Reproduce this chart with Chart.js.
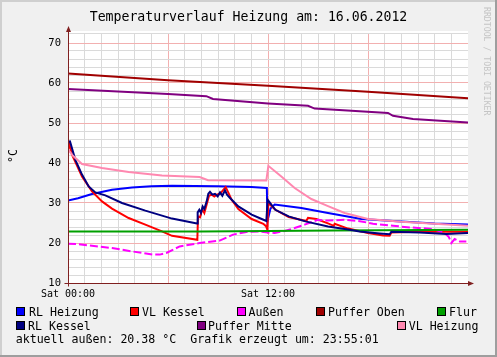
<!DOCTYPE html>
<html>
<head>
<meta charset="utf-8">
<script src="https://cdn.jsdelivr.net/npm/chart.js@4.4.1/dist/chart.umd.min.js"></script>
<style>
html,body{margin:0;padding:0;background:#f0f0f0;}
#wrap{position:relative;width:497px;height:357px;overflow:hidden;background:#f0f0f0;font-family:'DejaVu Sans Mono',monospace;color:#000;}
#c{position:absolute;left:0;top:0;}
.t{position:absolute;white-space:pre;line-height:14px;font-size:11.6px;}
.box{position:absolute;width:9px;height:9px;box-sizing:border-box;border:1px solid #000;}
#title{position:absolute;left:0;top:9px;width:497px;text-align:center;font-size:13.2px;line-height:16px;white-space:pre;}
#unit{position:absolute;left:-2.5px;top:149px;width:30px;height:14px;line-height:14px;text-align:center;font-size:11.6px;transform:rotate(-90deg);}
#credit{position:absolute;left:492px;top:7px;transform-origin:0 0;transform:rotate(90deg);font-size:8.2px;line-height:10px;color:#c4c4c4;white-space:pre;}
.edge{position:absolute;}
</style>
</head>
<body>
<div id="wrap">
<canvas id="c" width="497" height="357"></canvas>
<div id="title">Temperaturverlauf Heizung am: 16.06.2012</div>
<div id="unit">°C</div>
<div id="credit">RRDTOOL / TOBI OETIKER</div>
<div id="legend"></div>
<div class="t" style="left:15.7px;top:332px;">aktuell außen: 20.38 °C  Grafik erzeugt um: 23:55:01</div>
<div class="edge" style="left:0;top:0;width:497px;height:2px;background:#cfcfcf;"></div>
<div class="edge" style="left:0;top:0;width:2px;height:357px;background:#cfcfcf;"></div>
<div class="edge" style="right:0;top:0;width:2px;height:357px;background:#9e9e9e;"></div>
<div class="edge" style="left:0;bottom:0;width:497px;height:2px;background:#9e9e9e;"></div>
</div>
<script>
// ---- tick labels / axes ----
const xTickHours = [0,1,2,3,4,5,6,7,8,9,10,11,12,13,14,15,16,17,18,19,20,21,22,23];
const xTickLabels = {0:'Sat 00:00', 12:'Sat 12:00'};
const yTickValues = [10,12,14,16,18,20,22,24,26,28,30,32,34,36,38,40,42,44,46,48,50,52,54,56,58,60,62,64,66,68,70,72.5];

// ---- series names & colours ----
const seriesNames = ['RL Heizung','VL Kessel','Außen','Puffer Oben','Flur','RL Kessel','Puffer Mitte','VL Heizung'];
const seriesColors = ['#0000ff','#ff0000','#ff00ff','#a00000','#00a000','#000080','#800080','#ff88b0'];

// ---- series data (hours, °C) ----
const rlHeizungH = [0,0.6,1.44,2.64,3.84,5.0,6.24,9.0,11.0,11.93,11.97,12.15,12.4,14.0,15.6,17.6,20.0,22.0,24];
const rlHeizungV = [30.65,31.2,32.25,33.3,33.9,34.2,34.3,34.2,34.0,33.75,25.5,28.6,29.6,28.75,27.5,26.0,25.4,24.9,24.6];

const vlKesselH = [0,0.05,0.12,0.24,0.84,1.44,2.04,2.64,3.64,4.64,5.64,6.24,7.76,7.8,7.92,8.06,8.18,8.32,8.46,8.62,8.78,8.92,9.12,9.32,9.46,9.62,9.82,10.22,11.02,11.72,11.88,11.96,12.02,12.44,13.24,14.3,14.4,14.9,15.6,15.95,16.0,16.8,18.0,18.9,19.3,19.4,21.0,24];
const vlKesselV = [43.8,45.0,44.0,42.1,36.65,32.9,30.4,28.6,26.25,24.6,22.9,21.8,20.8,26.65,26.4,28.5,27.5,29.65,31.8,32.1,31.65,32.1,32.3,33.3,34.0,32.6,30.8,28.5,26.0,24.8,24.2,23.3,30.0,28.3,26.5,25.5,26.3,26.0,24.9,24.3,24.8,23.6,22.5,21.9,21.8,22.6,22.8,22.8];

const aussenH = [0,0.6,1.44,2.64,3.84,5.1,5.5,5.9,6.7,7.9,9.1,9.9,10.7,11.5,12.0,12.4,13.0,13.6,14.2,15.0,15.6,16.6,17.6,18.3,19.5,20.5,21.9,22.6,22.85,23.0,23.2,23.5,23.9];
const aussenV = [19.8,19.7,19.3,18.75,17.9,17.1,17.1,17.5,19.15,20.0,20.6,22.1,22.75,22.9,22.6,22.5,23.0,23.75,24.6,25.8,25.6,25.8,25.4,24.8,24.3,23.9,23.5,22.5,21.5,20.0,21.0,20.4,20.4];

const pufferObenH = [0,6,12,18,24];
const pufferObenV = [62.4,60.7,59.3,57.8,56.2];

const flurH = [0,8,12,16,24];
const flurV = [22.85,22.9,23.0,23.1,23.3];

const rlKesselH = [0,0.12,0.44,0.84,1.24,1.64,2.24,3.24,4.64,6.24,7.74,7.78,7.88,7.98,8.08,8.18,8.32,8.42,8.52,8.66,8.82,8.98,9.12,9.26,9.42,9.54,9.72,10.22,11.02,11.62,11.9,11.98,12.44,13.24,14.24,15.6,16.8,17.5,18.7,19.3,19.4,21.1,22.7,24];
const rlKesselV = [45.3,45.4,40.8,37.1,34.15,32.65,31.9,30.0,28.1,26.1,24.9,27.65,28.3,27.5,29.15,28.5,30.4,32.3,32.8,32.1,32.3,31.65,32.65,31.8,33.15,32.1,31.25,29.15,27.1,26.0,25.5,30.8,28.3,26.65,25.4,24.15,23.4,22.9,22.4,22.2,22.8,22.65,22.25,22.5];

const pufferMitteH = [0,6,8.3,8.7,12,14.4,14.8,19.2,19.5,20.7,24];
const pufferMitteV = [58.5,57.25,56.7,56.0,54.9,54.3,53.6,52.5,51.8,51.0,50.1];

const vlHeizungH = [0,0.3,0.84,2.04,3.64,5.64,7.9,8.4,11.9,12.02,12.8,13.6,14.6,15.6,16.6,18,20,22,24];
const vlHeizungV = [43.4,41.8,39.75,38.75,37.75,36.9,36.5,35.7,35.6,39.3,36.65,33.75,31.0,29.2,27.5,26.0,25.3,24.8,24.3];

const seriesHours = [rlHeizungH, vlKesselH, aussenH, pufferObenH, flurH, rlKesselH, pufferMitteH, vlHeizungH];
const seriesValues = [rlHeizungV, vlKesselV, aussenV, pufferObenV, flurV, rlKesselV, pufferMitteV, vlHeizungV];

// ---- legend (HTML text) ----
const legendPos = [[16,30,307],[130,143,307],[237,249.5,307],[316,329,307],[437,450,307],[16,29,321],[197,209,321],[397,409.7,321]];
const legendEl = document.getElementById('legend');
seriesNames.forEach((n,i)=>{
  const [bx,tx,by] = legendPos[i];
  const b = document.createElement('div'); b.className='box';
  b.style.left = bx+'px'; b.style.top = by+'px'; b.style.background = seriesColors[i];
  legendEl.appendChild(b);
  const t = document.createElement('div'); t.className='t';
  t.style.left = (tx-1)+'px'; t.style.top = (by-2.5)+'px'; t.textContent = n;
  legendEl.appendChild(t);
});

const AXIS = '#802020';
const MAJOR = '#f2b0b0';
const MINOR = '#dadada';

const rrdPlugin = {
  id: 'rrd',
  beforeDraw(chart){
    const {ctx, chartArea:a} = chart;
    ctx.save();
    ctx.fillStyle = '#ffffff';
    ctx.fillRect(a.left, a.top-2, a.right-a.left, a.bottom-a.top+2);
    ctx.restore();
  },
  afterDatasetsDraw(chart){
    const {ctx, chartArea:a} = chart;
    const x0 = Math.round(chart.scales.x.getPixelForValue(0)) + 0.5;
    const yb = Math.round(chart.scales.y.getPixelForValue(10)) + 0.5;
    ctx.save();
    ctx.strokeStyle = AXIS; ctx.fillStyle = AXIS; ctx.lineWidth = 1;
    ctx.beginPath();
    ctx.moveTo(x0, yb+3); ctx.lineTo(x0, a.top-3);
    ctx.moveTo(x0-4, yb); ctx.lineTo(a.right+2, yb);
    ctx.stroke();
    // arrows
    ctx.beginPath();
    ctx.moveTo(x0-2.5, a.top-1); ctx.lineTo(x0+2.5, a.top-1); ctx.lineTo(x0, a.top-7); ctx.closePath(); ctx.fill();
    ctx.beginPath();
    ctx.moveTo(a.right, yb-2.5); ctx.lineTo(a.right, yb+2.5); ctx.lineTo(a.right+6, yb); ctx.closePath(); ctx.fill();
    ctx.restore();
  }
};

const datasets = seriesNames.map((n,i)=>({
  label: n,
  data: seriesHours[i].map((h,k)=>({x:h, y:seriesValues[i][k]})),
  borderColor: seriesColors[i],
  backgroundColor: seriesColors[i],
  borderWidth: 2,
  pointRadius: 0,
  tension: 0,
  fill: false,
  borderDash: n === 'Außen' ? [8,3] : [],
  order: seriesNames.length - i
}));

new Chart(document.getElementById('c'), {
  type: 'line',
  data: { datasets },
  plugins: [rrdPlugin],
  options: {
    responsive: false,
    animation: false,
    devicePixelRatio: 1,
    layout: { padding: { left: 0, top: 33, right: 29, bottom: 54 } },
    plugins: { legend: { display: false }, tooltip: { enabled: false }, title: { display: false } },
    scales: {
      x: {
        type: 'linear', min: 0, max: 24,
        afterBuildTicks: s => { s.ticks = xTickHours.map(v=>({value:v})); },
        afterFit: s => { s.height = 20; },
        ticks: {
          autoSkip: false, maxRotation: 0, minRotation: 0, padding: 5, color: '#000',
          font: { family: "'DejaVu Sans Mono'", size: 10 },
          callback: v => xTickLabels[v] || ''
        },
        grid: {
          drawTicks: false,
          color: c => (c.tick && c.tick.value % 6 === 0) ? MAJOR : MINOR,
          lineWidth: 1
        },
        border: { display: false }
      },
      y: {
        type: 'linear', min: 10, max: 72.5,
        afterBuildTicks: s => { s.ticks = yTickValues.map(v=>({value:v})); },
        afterFit: s => { s.width = 68; },
        ticks: {
          autoSkip: false, padding: 7, color: '#000',
          font: { family: "'DejaVu Sans Mono'", size: 10.5 },
          callback: v => (v % 10 === 0 ? String(v) : '')
        },
        grid: {
          drawTicks: false,
          color: c => (c.tick && c.tick.value % 10 === 0) ? MAJOR : MINOR,
          lineWidth: 1
        },
        border: { display: false }
      }
    }
  }
});
</script>
</body>
</html>
